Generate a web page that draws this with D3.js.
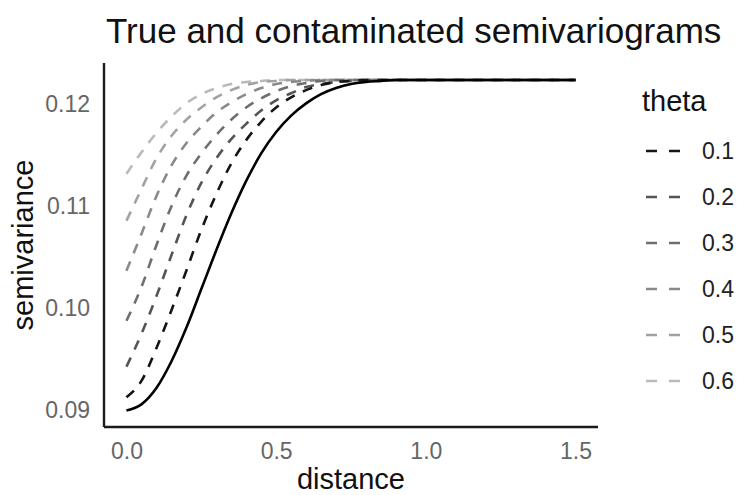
<!DOCTYPE html>
<html>
<head>
<meta charset="utf-8">
<script src="https://cdn.jsdelivr.net/npm/d3@7"></script>
<style>
  body { margin: 0; background: #fff; }
  text { font-family: "Liberation Sans", Arial, Helvetica, sans-serif; }
</style>
</head>
<body>
<div id="chart"></div>
<script>
// distances the semivariograms were read at
var distance = [0, 0.05, 0.1, 0.15, 0.2, 0.25, 0.3, 0.35, 0.4, 0.45, 0.5, 0.55, 0.6,
                0.65, 0.7, 0.75, 0.8, 0.85, 0.9, 1.0, 1.1, 1.2, 1.3, 1.4, 1.5];

// true semivariogram (solid)
var trueGamma = [0.0900, 0.0906, 0.0922, 0.0948, 0.0981, 0.1019, 0.1057, 0.1093, 0.1125,
                 0.1152, 0.1173, 0.1189, 0.1201, 0.1210, 0.1216, 0.1220, 0.1222, 0.1223,
                 0.1224, 0.1224, 0.1224, 0.1224, 0.1224, 0.1224, 0.1224];

// contaminated semivariograms, one per theta (dashed)
var theta01 = [0.0913, 0.0929, 0.0961, 0.0998, 0.1037, 0.1077, 0.1112, 0.1142, 0.1165,
               0.1183, 0.1197, 0.1207, 0.1214, 0.1219, 0.1222, 0.1223, 0.1224, 0.1224,
               0.1224, 0.1224, 0.1224, 0.1224, 0.1224, 0.1224, 0.1224];
var theta02 = [0.0943, 0.0975, 0.1012, 0.1052, 0.1091, 0.1123, 0.1147, 0.1166, 0.1181,
               0.1194, 0.1204, 0.1211, 0.1217, 0.1220, 0.1222, 0.1223, 0.1224, 0.1224,
               0.1224, 0.1224, 0.1224, 0.1224, 0.1224, 0.1224, 0.1224];
var theta03 = [0.0988, 0.1021, 0.1062, 0.1100, 0.1130, 0.1152, 0.1170, 0.1185, 0.1197,
               0.1206, 0.1213, 0.1218, 0.1221, 0.1223, 0.1224, 0.1224, 0.1224, 0.1224,
               0.1224, 0.1224, 0.1224, 0.1224, 0.1224, 0.1224, 0.1224];
var theta04 = [0.1037, 0.1073, 0.1110, 0.1140, 0.1162, 0.1178, 0.1192, 0.1202, 0.1210,
               0.1216, 0.1220, 0.1222, 0.1223, 0.1224, 0.1224, 0.1224, 0.1224, 0.1224,
               0.1224, 0.1224, 0.1224, 0.1224, 0.1224, 0.1224, 0.1224];
var theta05 = [0.1086, 0.1117, 0.1147, 0.1169, 0.1185, 0.1197, 0.1207, 0.1214, 0.1219,
               0.1222, 0.1223, 0.1224, 0.1224, 0.1224, 0.1224, 0.1224, 0.1224, 0.1224,
               0.1224, 0.1224, 0.1224, 0.1224, 0.1224, 0.1224, 0.1224];
var theta06 = [0.1132, 0.1153, 0.1172, 0.1188, 0.1201, 0.1210, 0.1216, 0.1220, 0.1222,
               0.1223, 0.1224, 0.1224, 0.1224, 0.1224, 0.1224, 0.1224, 0.1224, 0.1224,
               0.1224, 0.1224, 0.1224, 0.1224, 0.1224, 0.1224, 0.1224];

var thetaLabels = ["0.1", "0.2", "0.3", "0.4", "0.5", "0.6"];
var thetaColours = ["#151515", "#555555", "#6f6f6f", "#8a8a8a", "#a2a2a2", "#bababa"];
var xTicks = [0, 0.5, 1.0, 1.5];
var yTicks = [0.09, 0.10, 0.11, 0.12];

var contaminated = [theta01, theta02, theta03, theta04, theta05, theta06];

// set dimensions and margins of the graph
var margin = {top: 63, right: 139, bottom: 68, left: 104},
    width = 737 - margin.left - margin.right,
    height = 495 - margin.top - margin.bottom;

// set the ranges (ggplot style 5% expansion)
var x = d3.scaleLinear()
          .domain([-0.075, 1.575])
          .range([0, width]);
var y = d3.scaleLinear()
          .domain([0.08838, 0.12406])
          .range([height, 0]);

var svg = d3.select("#chart").append("svg")
      .attr("width", 737)
      .attr("height", 495);

var g = svg.append("g")
      .attr("transform", "translate(" + margin.left + "," + margin.top + ")");

var line = d3.line()
    .x(function(d) { return x(d[0]); })
    .y(function(d) { return y(d[1]); })
    .curve(d3.curveMonotoneX);

// dashed contaminated curves, lightest drawn first
for (var i = contaminated.length - 1; i >= 0; i--) {
  g.append("path")
    .datum(distance.map(function(dd, j) { return [dd, contaminated[i][j]]; }))
    .attr("fill", "none")
    .attr("stroke", thetaColours[i])
    .attr("stroke-width", 2.6)
    .attr("stroke-dasharray", "10,9")
    .attr("d", line);
}

// solid true curve on top
g.append("path")
  .datum(distance.map(function(dd, j) { return [dd, trueGamma[j]]; }))
  .attr("fill", "none")
  .attr("stroke", "#000")
  .attr("stroke-width", 2.6)
  .attr("d", line);

// x axis
var xAxis = g.append("g")
    .attr("transform", "translate(0," + height + ")")
    .call(d3.axisBottom(x).tickValues(xTicks).tickSize(0).tickPadding(16)
            .tickFormat(d3.format(".1f")));
xAxis.select(".domain").attr("stroke", "#1a1a1a").attr("stroke-width", 2.4)
    .attr("d", "M0,0H" + width);
xAxis.selectAll("text")
    .attr("fill", "#666")
    .style("font-size", "23px");

// y axis
var yAxis = g.append("g")
    .call(d3.axisLeft(y).tickValues(yTicks).tickSize(0).tickPadding(14)
            .tickFormat(d3.format(".2f")));
yAxis.select(".domain").attr("stroke", "#1a1a1a").attr("stroke-width", 2.4)
    .attr("d", "M0,0V" + height);
yAxis.selectAll("text")
    .attr("fill", "#666")
    .style("font-size", "23px");

// axis titles
svg.append("text")
    .attr("x", margin.left + width / 2)
    .attr("y", 489)
    .attr("text-anchor", "middle")
    .attr("fill", "#111")
    .style("font-size", "29px")
    .text("distance");

svg.append("text")
    .attr("transform", "translate(33," + (margin.top + height / 2) + ") rotate(-90)")
    .attr("text-anchor", "middle")
    .attr("fill", "#111")
    .style("font-size", "29px")
    .text("semivariance");

// title
svg.append("text")
    .attr("x", 106)
    .attr("y", 43)
    .attr("fill", "#111")
    .style("font-size", "35px")
    .text("True and contaminated semivariograms");

// legend
svg.append("text")
    .attr("x", 642)
    .attr("y", 111)
    .attr("fill", "#111")
    .style("font-size", "29px")
    .text("theta");

var legend = svg.selectAll(".key")
    .data(thetaLabels)
  .enter().append("g")
    .attr("class", "key")
    .attr("transform", function(d, i) { return "translate(646," + (151 + i * 46) + ")"; });

legend.append("line")
    .attr("x1", 0).attr("x2", 34)
    .attr("stroke", function(d, i) { return thetaColours[i]; })
    .attr("stroke-width", 2.6)
    .attr("stroke-dasharray", "11,12");

legend.append("text")
    .attr("x", 56)
    .attr("dy", "0.36em")
    .attr("fill", "#222")
    .style("font-size", "23px")
    .text(function(d) { return d; });
</script>
</body>
</html>
